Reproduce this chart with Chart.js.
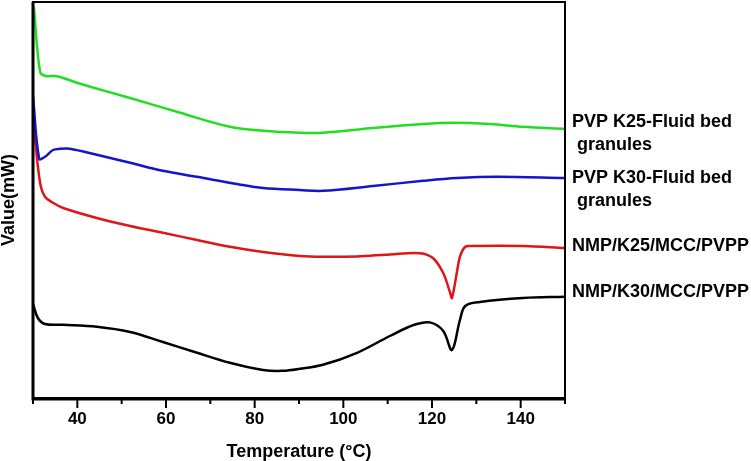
<!DOCTYPE html>
<html>
<head>
<meta charset="utf-8">
<script src="https://cdn.jsdelivr.net/npm/chart.js@4/dist/chart.umd.min.js"></script>
<style>
  html, body { margin: 0; padding: 0; background: #fff; }
  #wrap { width: 751px; height: 461px; }
</style>
</head>
<body>
<div id="wrap"><canvas id="dscChart" width="751" height="461"></canvas></div>
<script>
// Temperature (°C) and heat flow readings for each sample
const greenTemp = [30.2, 31.6, 32.9, 35, 36.8, 39.9, 42.9, 51.9, 63.2, 74.4, 81.9, 90.2, 95.4, 106.7, 118, 124.7, 133.1, 140.5, 150];
const greenVal  = [97.8, 81.5, 80.5, 80.5, 80, 78.8, 77.8, 75, 71.3, 67.8, 66.8, 66.3, 66.3, 67.5, 68.5, 68.8, 68.5, 67.8, 67.3];

const blueTemp = [30, 31.4, 32.7, 34.5, 36.1, 38.3, 44.4, 51.9, 59.3, 67, 76, 81.9, 90.2, 95.4, 106.7, 118, 125.6, 134.7, 150];
const blueVal  = [75.5, 59.8, 60.3, 62, 62.3, 62.3, 60.8, 58.8, 56.8, 55.3, 53.5, 52.5, 52, 51.8, 53, 54.3, 55, 55.3, 55];

const redTemp = [30.2, 31.6, 32.7, 34.5, 36.8, 44.4, 51.9, 59.3, 67, 74.4, 81.9, 90.2, 95.4, 103.1, 110.5, 117.3, 120.2, 122.5, 124.1, 124.5, 125.6, 126.3, 127.5, 129, 140.5, 150];
const redVal  = [67.5, 53.8, 50.3, 48.8, 47.5, 45, 43, 41.3, 39.5, 37.8, 36.5, 35.5, 35.3, 35.4, 35.9, 36.2, 35, 31.3, 26.3, 25, 31.3, 35.3, 37.8, 38, 38, 37.5];

const blackTemp = [30, 31.1, 32.7, 36.8, 44.4, 51.9, 59.3, 67, 74.4, 81.9, 86.4, 90.2, 95.4, 103.1, 110.5, 116, 119.5, 122.5, 124.5, 126.3, 127.5, 130.8, 140.5, 150];
const blackVal  = [23.5, 20, 18.5, 18.3, 17.8, 16.5, 14, 11.3, 8.8, 7, 6.8, 7.3, 8.3, 11.3, 15.5, 18.3, 18.9, 16.8, 12, 19.5, 23, 24, 25, 25.3];

// Series labels on the right, with the value level they sit at
const seriesNames = [['PVP K25-Fluid bed', ' granules'], ['PVP K30-Fluid bed', ' granules'], ['NMP/K25/MCC/PVPP'], ['NMP/K30/MCC/PVPP']];
const labelLevels = [69, 54.9, 38.1, 26.6];
const seriesColors = ['rgb(34,222,34)', 'rgb(20,20,205)', 'rgb(222,22,22)', '#000000'];

function toPoints(xs, ys) {
    return xs.map((x, i) => ({ x: x, y: ys[i] }));
}

const FONT = "'Liberation Sans', Arial, sans-serif";

// frame, tick marks and side labels
const framePlugin = {
    id: 'framePlugin',
    afterDraw(chart) {
        const ctx = chart.ctx;
        const a = chart.chartArea;
        const xs = chart.scales.x;
        const ys = chart.scales.y;
        ctx.save();
        ctx.strokeStyle = '#000';
        ctx.lineWidth = 2;
        ctx.strokeRect(a.left, a.top, a.right - a.left, a.bottom - a.top);
        ctx.lineWidth = 3;
        ctx.beginPath();
        ctx.moveTo(a.left, a.top);
        ctx.lineTo(a.left, a.bottom + 1);
        ctx.lineTo(a.right, a.bottom + 1);
        ctx.stroke();

        ctx.lineWidth = 2;
        for (let t = 30; t <= 150; t += 10) {
            const px = xs.getPixelForValue(t);
            const len = (t % 20 === 0) ? 8 : 4;
            ctx.beginPath();
            ctx.moveTo(px, a.bottom);
            ctx.lineTo(px, a.bottom + 2 + len);
            ctx.stroke();
        }

        ctx.fillStyle = '#000';
        ctx.font = 'bold 18px ' + FONT;
        ctx.textBaseline = 'middle';
        ctx.textAlign = 'left';
        seriesNames.forEach((lines, i) => {
            const py = ys.getPixelForValue(labelLevels[i]);
            lines.forEach((txt, j) => {
                ctx.fillText(txt, a.right + 7, py + j * 23);
            });
        });
        ctx.restore();
    }
};

const ctx = document.getElementById('dscChart').getContext('2d');
const dscChart = new Chart(ctx, {
    type: 'line',
    data: {
        datasets: [
            { data: toPoints(greenTemp, greenVal), borderColor: seriesColors[0] },
            { data: toPoints(blueTemp, blueVal), borderColor: seriesColors[1] },
            { data: toPoints(redTemp, redVal), borderColor: seriesColors[2] },
            { data: toPoints(blackTemp, blackVal), borderColor: seriesColors[3] }
        ]
    },
    options: {
        responsive: false,
        animation: false,
        layout: { padding: { left: 0, right: 186, top: 2, bottom: 0 } },
        elements: {
            point: { radius: 0 },
            line: { borderWidth: 2.5, tension: 0.35, fill: false }
        },
        plugins: {
            legend: { display: false },
            tooltip: { enabled: false }
        },
        scales: {
            x: {
                type: 'linear',
                min: 30,
                max: 150,
                border: { display: false },
                grid: { display: false, drawTicks: false },
                ticks: {
                    stepSize: 10,
                    autoSkip: false,
                    maxRotation: 0,
                    padding: 11,
                    color: '#000',
                    font: { family: FONT, size: 17, weight: 'bold' },
                    callback: function(value) {
                        return value % 20 === 0 ? value : '';
                    }
                },
                title: {
                    display: true,
                    text: 'Temperature (°C)',
                    color: '#000',
                    padding: 0,
                    font: { family: FONT, size: 18, weight: 'bold', lineHeight: 1 }
                },
                afterFit: function(scale) { scale.height = 63; }
            },
            y: {
                min: 0,
                max: 99,
                border: { display: false },
                grid: { display: false, drawTicks: false },
                ticks: { display: false },
                title: {
                    display: true,
                    text: 'Value(mW)',
                    color: '#000',
                    padding: 0,
                    font: { family: FONT, size: 18, weight: 'bold', lineHeight: 1 }
                },
                afterFit: function(scale) { scale.width = 33; }
            }
        }
    },
    plugins: [framePlugin]
});
</script>
</body>
</html>
